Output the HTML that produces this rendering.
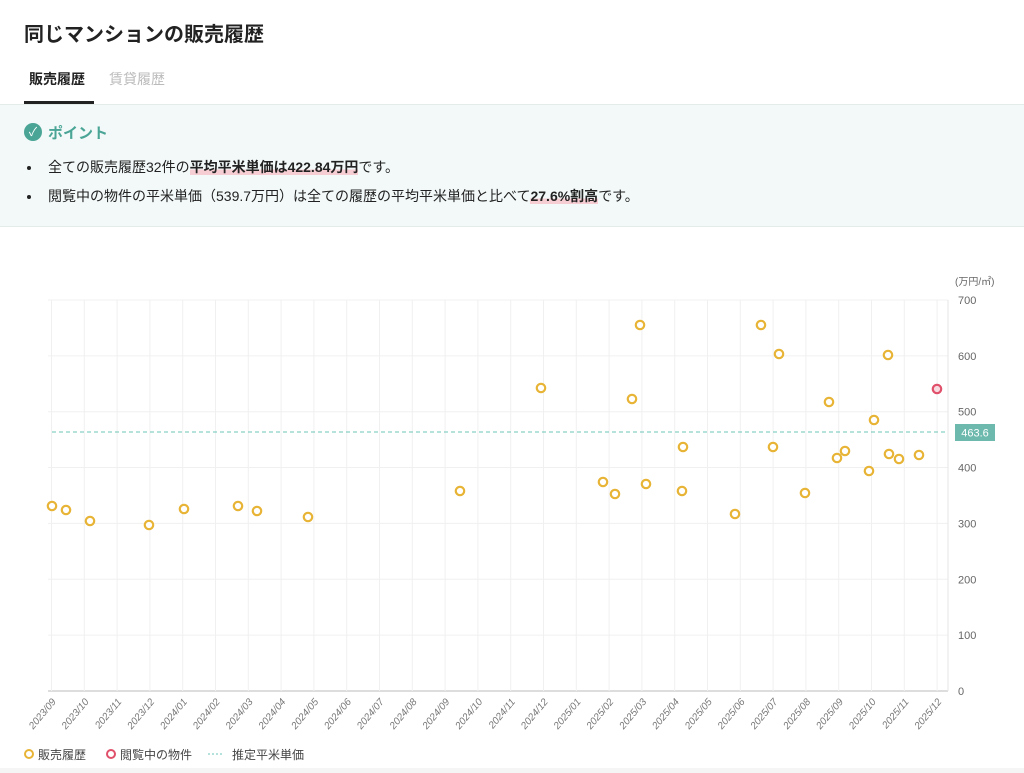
<!DOCTYPE html>
<html><head><meta charset="utf-8"><style>
body{margin:0;width:1024px;height:773px;background:#fff;font-family:"Liberation Sans","Noto Sans CJK JP",sans-serif;color:#222;overflow:hidden;position:relative}
.t{position:absolute;left:24px;top:18px;font-size:20px;font-weight:bold}
.tab{position:absolute;top:69px;font-size:14px}
.pt{position:absolute;left:0;top:104px;width:1024px;height:121px;background:#f2f9f8;border-top:1px solid #e4ecea;border-bottom:1px solid #e4ecea}
.hl{font-weight:bold;background:linear-gradient(transparent 65%,#f5cdd3 65%)}
li{font-size:14px;margin-bottom:10px;line-height:19px;padding-left:6px}
</style></head><body>
<div class="t">同じマンションの販売履歴</div>
<div class="tab" style="left:29px;font-weight:bold">販売履歴</div>
<div class="tab" style="left:109px;color:#bbb">賃貸履歴</div>
<div style="position:absolute;left:24px;top:101px;width:70px;height:3px;background:#222"></div>
<div class="pt">
<div style="position:absolute;left:24px;top:18px;width:18px;height:18px;border-radius:50%;background:#4aa596;color:#fff;font-size:12px;text-align:center;line-height:18px">✓</div>
<div style="position:absolute;left:48px;top:17px;color:#4aa596;font-size:15px;font-weight:bold">ポイント</div>
<ul style="position:absolute;left:10px;top:53px;margin:0;padding-left:32px">
<li>全ての販売履歴32件の<span class="hl">平均平米単価は422.84万円</span>です。</li>
<li>閲覧中の物件の平米単価（539.7万円）は全ての履歴の平均平米単価と比べて<span class="hl">27.6%割高</span>です。</li>
</ul></div>
<svg width="1024" height="773" style="position:absolute;left:0;top:0" font-family="Liberation Sans, Noto Sans CJK JP, sans-serif">
<g id="g"></g>
<text x="955" y="285" font-size="10" fill="#666">(万円/㎡)</text>
<line x1="52" y1="432" x2="948" y2="432" stroke="#6dc4b8" stroke-dasharray="4,3"/>
<rect x="955" y="424" width="40" height="17" fill="#6db9ad"/>
<text x="975" y="436.5" font-size="11" fill="#fff" text-anchor="middle">463.6</text>
<g id="p"></g>
<circle cx="29" cy="754" r="4" fill="#fff" stroke="#e8b436" stroke-width="2"/><text x="38" y="759" font-size="12" fill="#444">販売履歴</text>
<circle cx="111" cy="754" r="4" fill="#fff" stroke="#e0506a" stroke-width="2"/><text x="120" y="759" font-size="12" fill="#444">閲覧中の物件</text>
<line x1="208" y1="754" x2="224" y2="754" stroke="#6dc4b8" stroke-dasharray="2,2"/><text x="232" y="759" font-size="12" fill="#444">推定平米単価</text>
</svg>
<div style="position:absolute;left:0;top:768px;width:1024px;height:5px;background:#f5f5f5"></div>
<script>
var g=document.getElementById('g'),s='';
for(var v=0;v<=7;v++){var y=691-v*55.86;s+='<line x1="48" x2="948" y1="'+y+'" y2="'+y+'" stroke="'+(v?'#f0f0f0':'#ddd')+'" stroke-width="'+(v?1:2)+'"/><text x="958" y="'+(y+4)+'" font-size="11" fill="#666">'+(v*100)+'</text>';}
var m=[];for(var i=0;i<28;i++){var yr=2023+Math.floor((8+i)/12),mo=(8+i)%12+1;m.push(yr+'/'+(mo<10?'0':'')+mo);}
for(i=0;i<28;i++){var x=51.5+32.8*i;s+='<line x1="'+x+'" x2="'+x+'" y1="300" y2="691" stroke="#f0f0f0"/><text transform="translate('+(x+5)+',702) rotate(-50)" text-anchor="end" font-size="10" fill="#777" font-style="italic">'+m[i]+'</text>';}
s+='<line x1="948" x2="948" y1="300" y2="691" stroke="#e6e6e6"/>';
g.innerHTML=s;
var P=[[52,506],[66,510],[90,521],[149,525],[184,509],[238,506],[257,511],[308,517],[460,491],[541,388],[603,482],[615,494],[632,399],[640,325],[646,484],[683,447],[682,491],[735,514],[761,325],[779,354],[773,447],[805,493],[829,402],[837,458],[845,451],[869,471],[874,420],[888,355],[889,454],[899,459],[919,455]];
s='';P.forEach(function(p){s+='<circle cx="'+p[0]+'" cy="'+p[1]+'" r="4.2" fill="#fff" stroke="#e8b436" stroke-width="2.2"/>';});
s+='<circle cx="937" cy="389" r="4.2" fill="#f6dbe0" stroke="#e0506a" stroke-width="2.2"/>';
document.getElementById('p').innerHTML=s;
</script>
</body></html>
